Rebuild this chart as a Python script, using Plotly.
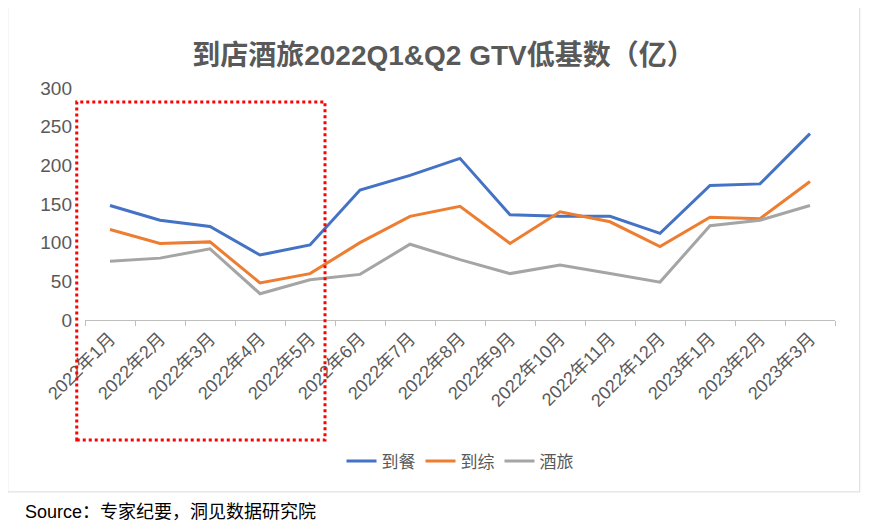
import plotly.graph_objects as go

months = ["2022年1月", "2022年2月", "2022年3月", "2022年4月", "2022年5月", "2022年6月",
          "2022年7月", "2022年8月", "2022年9月", "2022年10月", "2022年11月", "2022年12月",
          "2023年1月", "2023年2月", "2023年3月"]
dao_can = [148, 129, 121, 84, 97, 168, 187, 209, 136, 134, 134, 112, 174, 176, 241]
dao_zong = [117, 99, 101, 48, 60, 100, 134, 147, 99, 140, 127, 95, 133, 131, 179]
jiu_lv = [76, 80, 92, 34, 52, 59, 98, 78, 60, 71, 60, 49, 122, 129, 148]

FONT = "Liberation Sans, Noto Sans CJK SC"
fig = go.Figure()
for name, vals, color in [("到餐", dao_can, "#4472C4"), ("到综", dao_zong, "#ED7D31"),
                          ("酒旅", jiu_lv, "#A5A5A5")]:
    fig.add_trace(go.Scatter(x=months, y=vals, mode="lines", name=name,
                             line=dict(color=color, width=3)))

fig.update_layout(
    width=871, height=532,
    margin=dict(l=77, r=44, t=80, b=220, autoexpand=False),
    paper_bgcolor="white", plot_bgcolor="white",
    font=dict(family=FONT, color="#595959", size=15),
    title=dict(text="<b>到店酒旅2022Q1&Q2 GTV低基数（亿）</b>", x=0.5, y=0.93,
               xanchor="center", font=dict(size=28, color="#595959")),
    xaxis=dict(tickangle=-45, showline=True, linecolor="#BFBFBF", linewidth=1,
               ticks="outside", tickson="boundaries", tickcolor="#BFBFBF", ticklen=5,
               showgrid=False, range=[-0.5, 14.5], automargin=False,
               tickfont=dict(size=18, color="#595959")),
    yaxis=dict(range=[0, 300], dtick=50, showgrid=False, zeroline=False, automargin=False,
               ticklabelstandoff=12, tickfont=dict(size=19, color="#595959")),
    legend=dict(orientation="h", x=0.5, xanchor="center", y=-0.61, yanchor="middle",
                font=dict(size=17)),
    shapes=[
        dict(type="rect", xref="paper", yref="paper", x0=-0.011, x1=0.32, y0=-0.517, y1=0.94,
             line=dict(color="#FF0000", width=3, dash="dot")),
        dict(type="rect", xref="paper", yref="paper", x0=-0.103, x1=1.033, y0=-0.741, y1=1.358,
             line=dict(color="#D9D9D9", width=1)),
    ],
    annotations=[dict(text="Source：专家纪要，洞见数据研究院", xref="paper", yref="paper",
                      x=-0.083, y=-0.828, xanchor="left", yanchor="middle", showarrow=False,
                      font=dict(size=18, color="#000000"))],
)
fig.write_html("out.html")
